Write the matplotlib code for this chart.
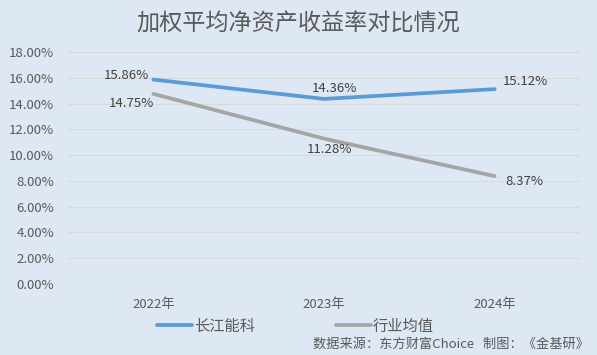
import matplotlib.pyplot as plt
import matplotlib.ticker as ticker

plt.rcParams['font.family'] = ['Noto Sans CJK SC', 'DejaVu Sans']

years = ['2022年', '2023年', '2024年']
cjnk = [15.86, 14.36, 15.12]
industry = [14.75, 11.28, 8.37]

bg = '#dee8f4'
fig = plt.figure(figsize=(5.97, 3.55), dpi=100, facecolor=bg)
ax = fig.add_axes([68/597, 1-284/355, 512/597, 232/355], facecolor=bg)

x = [0, 1, 2]
ax.plot(x, cjnk, color='#5b9bd5', lw=2.7, label='长江能科', solid_capstyle='round')
ax.plot(x, industry, color='#a5a5a5', lw=2.7, label='行业均值', solid_capstyle='round')

ax.set_xlim(-0.5, 2.5)
ax.set_ylim(0, 18)
ax.set_yticks(range(0, 19, 2))
ax.yaxis.set_major_formatter(ticker.FuncFormatter(lambda v, p: '{:.2f}%'.format(v)))
ax.set_xticks(x)
ax.set_xticklabels(years)
ax.grid(axis='y', color='#d9d9d9', lw=0.8)
ax.set_axisbelow(True)
for s in ax.spines.values():
    s.set_visible(False)
ax.tick_params(length=0, colors='#595959', labelsize=9.5)
ax.tick_params(axis='y', pad=10)
ax.tick_params(axis='x', pad=10)

# data labels (offsets in points)
offs_a = [(-19.4, 2.8), (7.2, 7.8), (22.3, 5.8)]
offs_b = [(-15.8, -6.6), (3.6, -7.5), (21.6, -3.6)]
for i in x:
    ax.annotate('{:.2f}%'.format(cjnk[i]), (i, cjnk[i]), xytext=offs_a[i],
                textcoords='offset points', ha='center', va='center',
                fontsize=9.5, color='#404040')
    ax.annotate('{:.2f}%'.format(industry[i]), (i, industry[i]), xytext=offs_b[i],
                textcoords='offset points', ha='center', va='center',
                fontsize=9.5, color='#404040')

fig.text(0.5, 1-24/355, '加权平均净资产收益率对比情况', ha='center', va='center',
         fontsize=16.7, color='#595959')

leg = fig.legend(loc='center left', bbox_to_anchor=(157/597, 1-326/355), ncol=2,
                 frameon=False, fontsize=11, handlelength=2.3, handletextpad=0.1,
                 columnspacing=5.3, borderpad=0, borderaxespad=0,
                 labelcolor='#595959')

fig.text(589/597, 1-344/355, '数据来源：东方财富Choice   制图：《金基研》', ha='right',
         va='center', fontsize=9.5, color='#595959')

fig.savefig('out.png', dpi=100, facecolor=bg)
